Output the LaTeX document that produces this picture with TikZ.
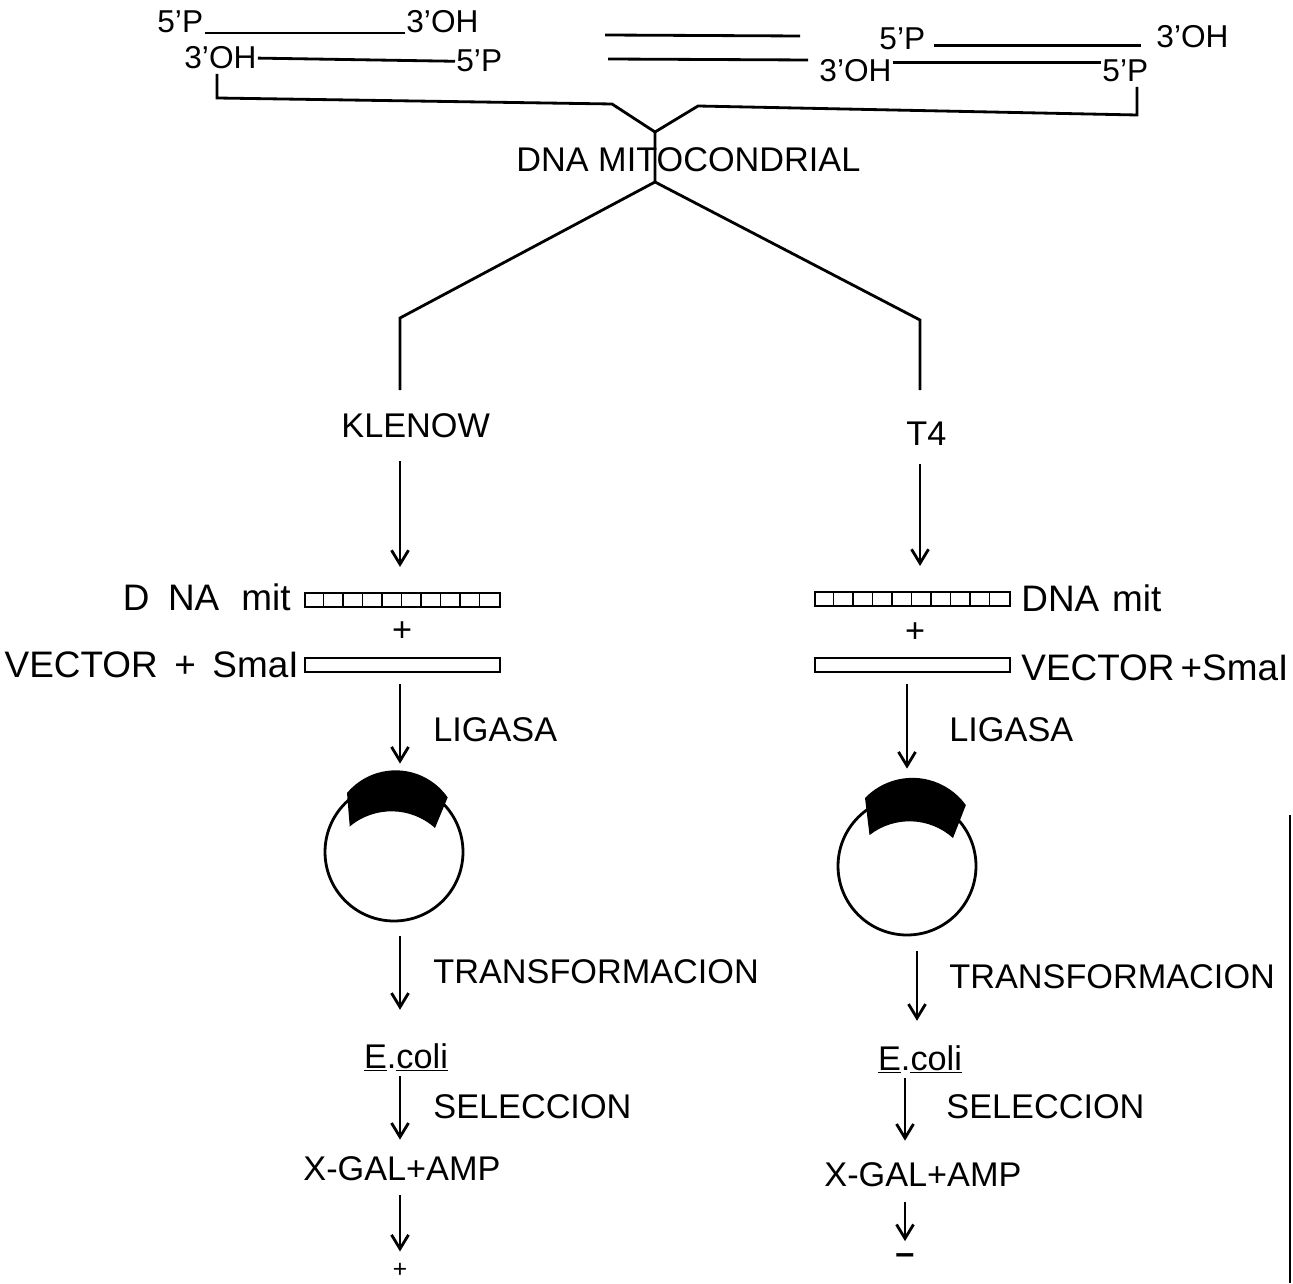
\documentclass[tikz,border=0pt]{standalone}
\usepackage{fontspec}
\setmainfont{Liberation Sans}
\usetikzlibrary{arrows.meta}

\begin{document}
\begin{tikzpicture}[x=0.02cm, y=-0.02cm, line width=1.6pt,
    >={Straight Barb[length=2.8mm,width=3.4mm]},
    rotulo/.style={inner sep=0pt, font=\fontsize{19.5}{22}\selectfont},
    rotulog/.style={inner sep=0pt, font=\fontsize{21}{24}\selectfont},
    ponta/.style={inner sep=0pt, font=\fontsize{18}{20}\selectfont},
    caixa/.style={draw, line width=1.2pt, minimum width=3.9cm, minimum height=0.28cm, inner sep=0pt},
    plasmideo/.style={draw, circle, minimum size=2.76cm, inner sep=0pt}]

            % Area total da figura
            \useasboundingbox (0,0) rectangle (1293,1283);

            % --- Fragmentos de DNA (topo) ---

            % Fragmento esquerdo
            \node[ponta, anchor=base west] (p5La) at (156,33) {5'P};
            \node[ponta, anchor=base west] (oh3La) at (405,33) {3'OH};
            \node[ponta, anchor=base west] (oh3Lb) at (183,69) {3'OH};
            \node[ponta, anchor=base west] (p5Lb) at (455,72) {5'P};
            \draw (p5La.base east) -- (oh3La.base west);
            \draw (oh3Lb.east) -- (p5Lb.west);

            % Tracos duplos do meio
            \draw (605,35) -- (800,36);
            \draw (608,59) -- (808,60);

            % Fragmento direito
            \node[ponta, anchor=base west] (p5Ra) at (878,50) {5'P};
            \node[ponta, anchor=base west] (oh3Ra) at (1155,48) {3'OH};
            \node[ponta, anchor=base west] (oh3Rb) at (818,82) {3'OH};
            \node[ponta, anchor=base west] (p5Rb) at (1101,82) {5'P};
            \draw[shorten <=4pt, shorten >=8pt] (p5Ra.mid east) -- (p5Ra.mid east -| oh3Ra.west);
            \draw ([yshift=-0.08cm]oh3Rb.north east) -- ([yshift=-0.08cm]oh3Rb.north east -| p5Rb.west);

            % Coordenadas da chave que junta os fragmentos
            \coordinate (ganchoL) at (217,74);
            \coordinate (dobraL) at (217,98);
            \coordinate (cotoveloL) at (612,104);
            \coordinate (uniao) at (655,132);
            \coordinate (cotoveloR) at (698,106);
            \coordinate (dobraR) at (1137,115);
            \coordinate (ganchoR) at (1137,87);
            \coordinate (ramo) at (655,182);
            \coordinate (cantoL) at (400,318);
            \coordinate (cantoR) at (920,320);
            \coordinate (peL) at (400,390);
            \coordinate (peR) at (920,390);

            \node[rotulo, anchor=base west] (dnamito) at (515,172) {DNA MITOCONDRIAL};

            \draw (ganchoL) -- (dobraL) -- (cotoveloL) -- (uniao) -- (cotoveloR) -- (dobraR) -- (ganchoR);
            \draw (uniao) -- (ramo) -- (cantoL) -- (peL);
            \draw (ramo) -- (cantoR) -- (peR);

            % --- Enzimas ---
            \node[rotulo, anchor=base west] (klenow) at (340,437) {KLENOW};
            \node[rotulo, anchor=base west] (t4) at (905,445) {T4};

            % --- DNA mit + vetor ---
            \node[caixa] (dnaL) at (402.5,600) {};
            \node[caixa] (vetL) at (402.5,665) {};
            \node[caixa] (dnaR) at (912.5,599) {};
            \node[caixa] (vetR) at (912.5,665) {};
            \foreach \i in {1,...,9} {
                \draw[line width=1pt] ([xshift=\i*0.39cm]dnaL.north west) -- ([xshift=\i*0.39cm]dnaL.south west);
                \draw[line width=1pt] ([xshift=\i*0.39cm]dnaR.north west) -- ([xshift=\i*0.39cm]dnaR.south west);
            }

            \node[rotulog, anchor=base east] (dnamitL) at (292,610) {D\hspace{.5em}NA\hspace{.6em}mit};
            \node[rotulog, anchor=base east] (vetorL) at (300,677) {VECTOR\hspace{.45em}+\hspace{.45em}SmaI};
            \node[rotulog, anchor=base west] (dnamitR) at (1020,611) {DNA\hspace{.35em}mit};
            \node[rotulog, anchor=base west] (vetorR) at (1020,680) {VECTOR\,+SmaI};
            \node[rotulo] (maisL) at (402,632) {+};
            \node[rotulo] (maisR) at (915,633) {+};

            \draw[->, shorten <=0.45cm, shorten >=0.5cm] (peL |- klenow.south) -- (peL |- dnaL.north);
            \draw[->, shorten <=0.35cm, shorten >=0.5cm] (peR |- t4.south) -- (peR |- dnaR.north);

            % --- Ligacao: plasmideos ---
            \node[plasmideo] (plasL) at (394,852) {};
            \node[plasmideo] (plasR) at (907,866) {};

            % Insertos (faixas pretas em arco)
            \fill (347,793) arc[start angle=140, end angle=35, radius=1.27cm] -- (435,828)
                arc[start angle=48, end angle=130, radius=1.3cm] -- cycle;
            \fill (865,798) arc[start angle=136, end angle=36, radius=1.32cm] -- (953,838)
                arc[start angle=48, end angle=128, radius=1.3cm] -- cycle;

            \node[rotulo, anchor=base west] (ligasaL) at (432,741) {LIGASA};
            \node[rotulo, anchor=base west] (ligasaR) at (948,741) {LIGASA};
            \draw[->, shorten <=0.22cm, shorten >=0.36cm] (peL |- vetL.south) -- (peL |- plasL.north);
            \draw[->, shorten <=0.22cm, shorten >=0.54cm] (vetR.south -| plasR.north) -- (plasR.north);

            % --- Transformacao ---
            \node[rotulo, anchor=base west] (transfL) at (432,983) {TRANSFORMACION};
            \node[rotulo, anchor=base west] (transfR) at (948,988) {TRANSFORMACION};
            \node[rotulo, anchor=base] (ecoliL) at (406,1068) {\underline{E}.\underline{coli}};
            \node[rotulo, anchor=base] (ecoliR) at (920,1070) {\underline{E}.\underline{coli}};
            \draw[->, shorten <=0.28cm, shorten >=0.64cm] (peL |- plasL.south) -- (peL |- ecoliL.north);
            \draw[->, shorten <=0.3cm, shorten >=0.46cm] (plasR.south) ++(0.2cm,0) coordinate (saiR) (saiR) -- (saiR |- ecoliR.north);

            % --- Selecao ---
            \node[rotulo, anchor=base west] (selL) at (432,1118) {SELECCION};
            \node[rotulo, anchor=base west] (selR) at (945,1118) {SELECCION};
            \node[rotulo, anchor=base west] (xgalL) at (302,1180) {X-GAL+AMP};
            \node[rotulo, anchor=base west] (xgalR) at (823,1186) {X-GAL+AMP};
            \node[inner sep=0pt, font=\fontsize{14}{14}\selectfont] (maisF) at (400,1270) {+};
            \node[rotulo] (menosF) at (905,1259) {\textbf{–}};

            \draw[->, shorten <=0.06cm, shorten >=0.3cm] (peL |- ecoliL.south) -- (peL |- xgalL.north);
            \draw[->, shorten <=0.06cm, shorten >=0.4cm] (menosF |- ecoliR.south) -- (menosF |- xgalR.north);
            \draw[->, shorten <=0.26cm, shorten >=0.2cm] (xgalL.south -| maisF) -- (maisF);
            \draw[->, shorten <=0.28cm, shorten >=0.22cm] (xgalR.south -| menosF) -- (menosF);

            % Borda da folha (direita)
            \draw[line width=1pt] (1290,815) -- (1290,1283);

\end{tikzpicture}
\end{document}
